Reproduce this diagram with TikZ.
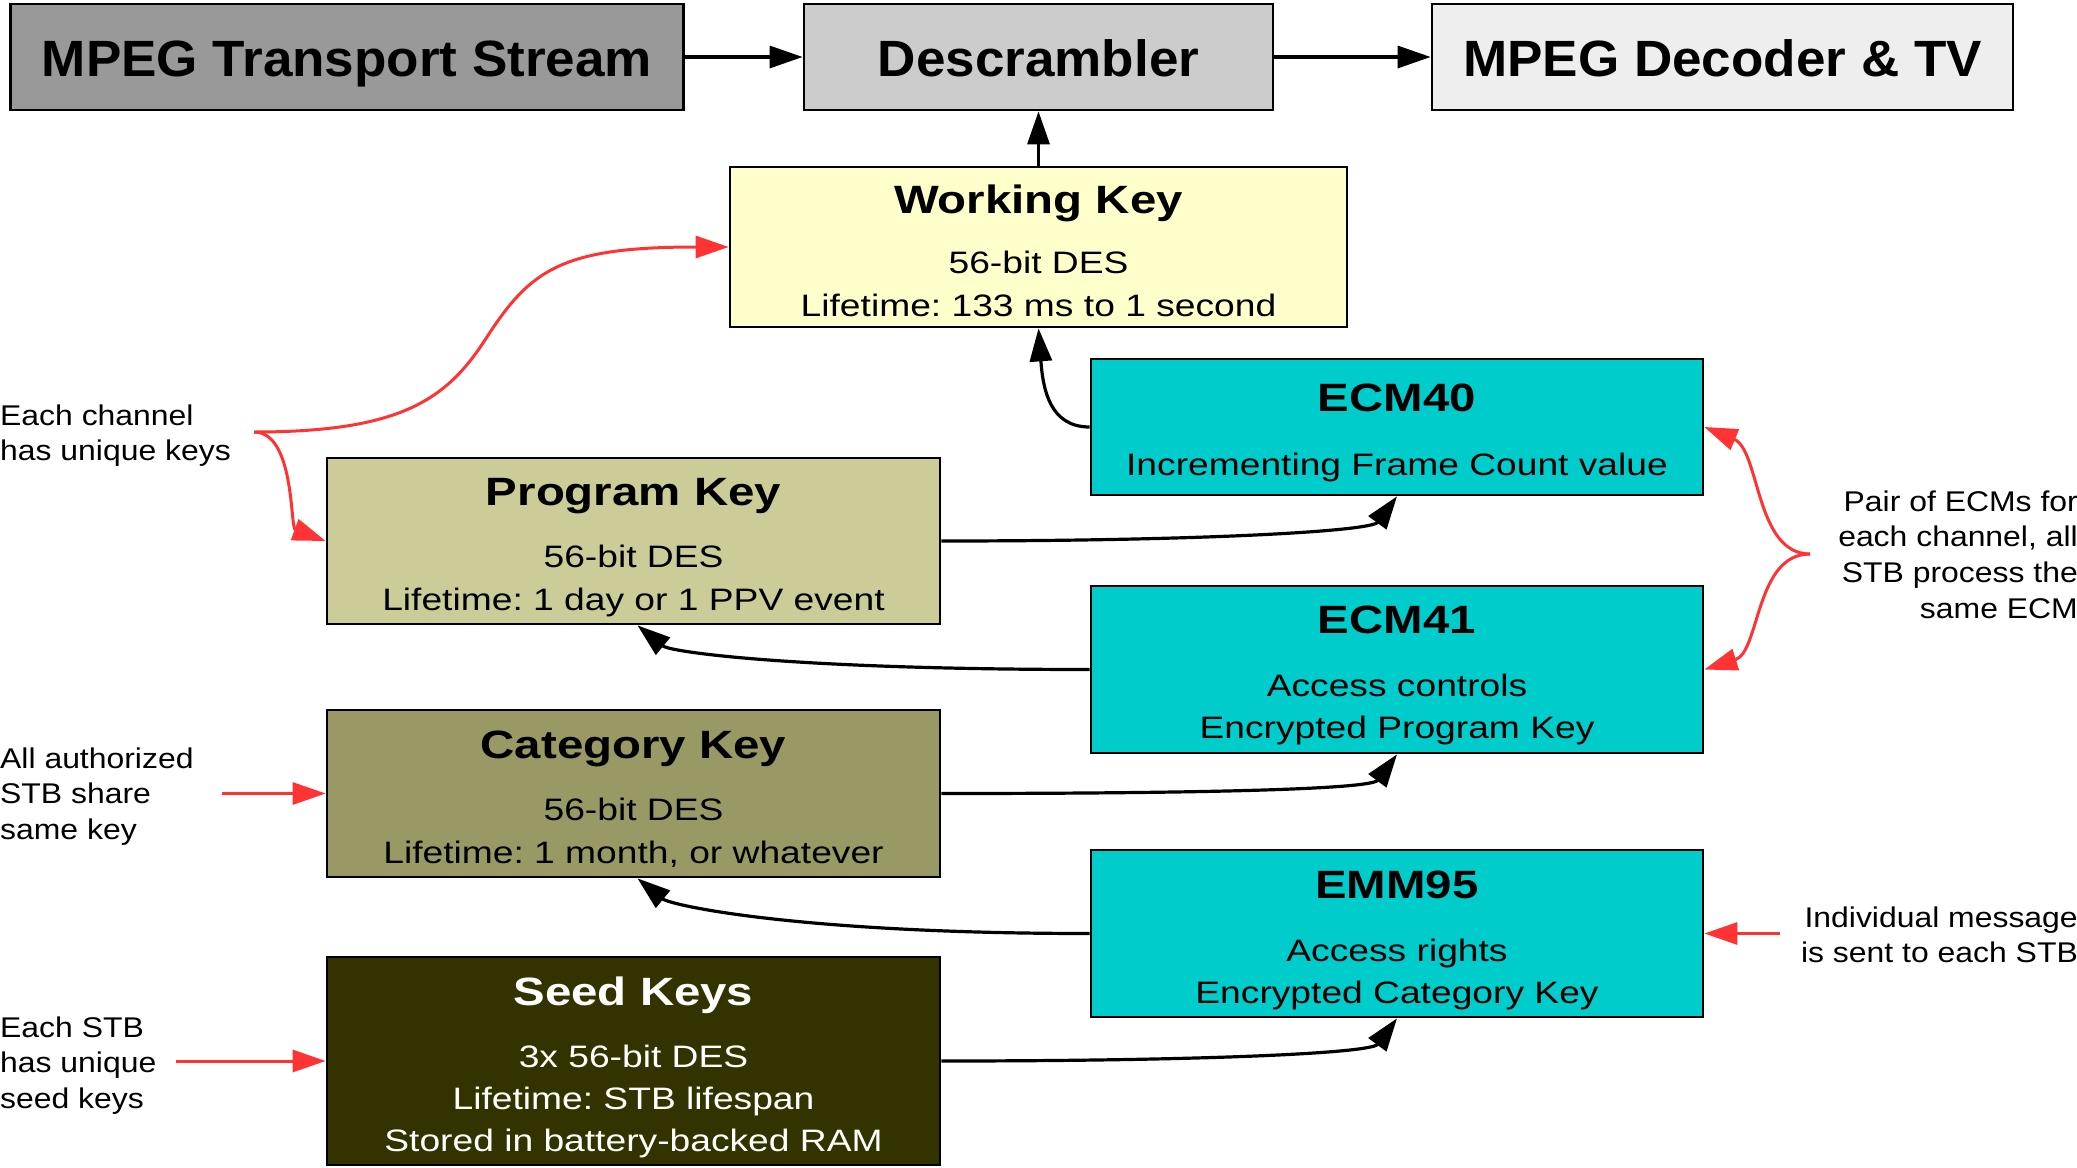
\documentclass[tikz,border=0pt]{standalone}
\usepackage{fontspec}
\setmainfont{Liberation Sans}
\newfontfamily\headfont{Liberation Sans}[FakeStretch=1.04]
\newfontfamily\keyfont{Liberation Sans}[FakeStretch=1.2]
\newfontfamily\notefont{Liberation Sans}[FakeStretch=1.12]
\usetikzlibrary{arrows.meta,calc}
\frenchspacing

\definecolor{tsgray}{HTML}{999999}
\definecolor{descgray}{HTML}{CCCCCC}
\definecolor{decgray}{HTML}{EEEEEE}
\definecolor{wkyellow}{HTML}{FFFFCC}
\definecolor{pkolive}{HTML}{CCCC99}
\definecolor{ckolive}{HTML}{999966}
\definecolor{seeddark}{HTML}{333300}
\definecolor{ecmcyan}{HTML}{00CCCC}
\definecolor{notered}{HTML}{FF3333}

\tikzset{
  keybox/.style={draw=black, line width=2.7pt, inner sep=0pt},
  headtxt/.style={font=\headfont\fontsize{51}{60}\selectfont\bfseries, anchor=base, inner sep=0pt},
  titletxt/.style={font=\keyfont\fontsize{39.5}{47}\selectfont\bfseries, anchor=base, inner sep=0pt},
  bodytxt/.style={font=\keyfont\fontsize{31}{37}\selectfont, anchor=base, inner sep=0pt},
  notetxt/.style={font=\notefont\fontsize{28.5}{35}\selectfont, inner sep=0pt},
  flow/.style={line width=3.2pt, -{Triangle[length=33pt,width=22pt]}},
  remark/.style={color=notered, line width=3pt, -{Triangle[length=33pt,width=22pt]}},
}

\begin{document}
\begin{tikzpicture}[x=1pt,y=-1pt]
\useasboundingbox (0,0) rectangle (2077,1167);

% transport chain
\node[keybox, fill=tsgray, minimum width=673pt, minimum height=106pt] (mts) at (347,57) {};
\node[headtxt] (mts-t) at (347,76) {MPEG Transport Stream};
\node[keybox, fill=descgray, minimum width=469pt, minimum height=106pt] (desc) at (1038.5,57) {};
\node[headtxt] (desc-t) at (1038.5,76) {Descrambler};
\node[keybox, fill=decgray, minimum width=581pt, minimum height=106pt] (dec) at (1722.5,57) {};
\node[headtxt] (dec-t) at (1722.5,76) {MPEG Decoder \& TV};

% working key
\node[keybox, fill=wkyellow, minimum width=617pt, minimum height=160pt] (wk) at (1038.5,247) {};
\node[titletxt] (wk-t) at (1038.5,213) {Working Key};
\node[bodytxt] (wk-l1) at (1038.5,273) {56-bit DES};
\node[bodytxt] (wk-l2) at (1038.5,316) {Lifetime: 133 ms to 1 second};

% key hierarchy (left column)
\node[keybox, fill=pkolive, minimum width=613pt, minimum height=166pt] (pk) at (633.5,541) {};
\node[titletxt] (pk-t) at (633.5,505) {Program Key};
\node[bodytxt] (pk-l1) at (633.5,567) {56-bit DES};
\node[bodytxt] (pk-l2) at (633.5,610) {Lifetime: 1 day or 1 PPV event};

\node[keybox, fill=ckolive, minimum width=613pt, minimum height=167pt] (ck) at (633.5,793.5) {};
\node[titletxt] (ck-t) at (633.5,758) {Category Key};
\node[bodytxt] (ck-l1) at (633.5,820) {56-bit DES};
\node[bodytxt] (ck-l2) at (633.5,863) {Lifetime: 1 month, or whatever};

\node[keybox, fill=seeddark, minimum width=613pt, minimum height=208pt] (seed) at (633.5,1061) {};
\node[titletxt, text=white] (seed-t) at (633.5,1005) {Seed Keys};
\node[bodytxt, text=white] (seed-l1) at (633.5,1067) {3x 56-bit DES};
\node[bodytxt, text=white] (seed-l2) at (633.5,1109) {Lifetime: STB lifespan};
\node[bodytxt, text=white] (seed-l3) at (633.5,1151) {Stored in battery-backed RAM};

% messages (right column)
\node[keybox, fill=ecmcyan, minimum width=612pt, minimum height=136pt] (e40) at (1397,427) {};
\node[titletxt] (e40-t) at (1397,411) {ECM40};
\node[bodytxt] (e40-l1) at (1397,475) {Incrementing Frame Count value};

\node[keybox, fill=ecmcyan, minimum width=612pt, minimum height=167pt] (e41) at (1397,669.5) {};
\node[titletxt] (e41-t) at (1397,633) {ECM41};
\node[bodytxt] (e41-l1) at (1397,696) {Access controls};
\node[bodytxt] (e41-l2) at (1397,738) {Encrypted Program Key};

\node[keybox, fill=ecmcyan, minimum width=612pt, minimum height=167pt] (emm) at (1397,933.5) {};
\node[titletxt] (emm-t) at (1397,898) {EMM95};
\node[bodytxt] (emm-l1) at (1397,961) {Access rights};
\node[bodytxt] (emm-l2) at (1397,1003) {Encrypted Category Key};

% side notes
\node[notetxt, anchor=base west] (n1a) at (0,425) {Each channel};
\node[notetxt, anchor=base west] (n1b) at (0,460) {has unique keys};
\node[notetxt, anchor=base west] (n2a) at (0,768) {All authorized};
\node[notetxt, anchor=base west] (n2b) at (0,803) {STB share};
\node[notetxt, anchor=base west] (n2c) at (0,839) {same key};
\node[notetxt, anchor=base west] (n3a) at (0,1037) {Each STB};
\node[notetxt, anchor=base west] (n3b) at (0,1072) {has unique};
\node[notetxt, anchor=base west] (n3c) at (0,1108) {seed keys};
\node[notetxt, anchor=base east] (n4a) at (2078,511) {Pair of ECMs for};
\node[notetxt, anchor=base east] (n4b) at (2078,546) {each channel, all};
\node[notetxt, anchor=base east] (n4c) at (2078,582) {STB process the};
\node[notetxt, anchor=base east] (n4d) at (2078,618) {same ECM};
\node[notetxt, anchor=base east] (n5a) at (2078,927) {Individual message};
\node[notetxt, anchor=base east] (n5b) at (2078,962) {is sent to each STB};

% data flow
\draw[flow] (mts) -- (desc);
\draw[flow] (desc) -- (dec);
\draw[flow] (wk.north) -- (desc.south);
\draw[flow] (e40.west) .. controls (1050,427) and (1043,390) .. (wk.south);
\draw[flow] (pk.east) .. controls +(260,0) and +(-26,35) .. (e40.south);
\draw[flow] (e41.west) .. controls +(-291,0) and +(33,27) .. ($(pk.south)+(4,0)$);
\draw[flow] (ck.east) .. controls +(260,0) and +(-26,35) .. (e41.south);
\draw[flow] (emm.west) .. controls +(-291,0) and +(33,27) .. ($(ck.south)+(4,0)$);
\draw[flow] (seed.east) .. controls +(260,0) and +(-26,35) .. (emm.south);

% annotation pointers
\coordinate (chan) at (254,432);
\draw[remark] (chan) .. controls (400,432) and (446,400) .. (485,340)
  .. controls (530,270) and (560,247) .. (wk.west);
\draw[remark] (chan) .. controls (295,432) and (290,528) .. (pk.west);
\coordinate (shared) at (222,793.5);
\draw[remark] (shared) -- (ck.west);
\coordinate (perstb) at (176,1061);
\draw[remark] (perstb) -- (seed.west);
\coordinate (pair) at (1810,554);
\draw[remark] (pair) .. controls (1755,554) and (1760,450) .. (e40.east);
\draw[remark] (pair) .. controls (1755,554) and (1760,652) .. (e41.east);
\coordinate (indiv) at (1780,933.5);
\draw[remark] (indiv) -- (emm.east);
\end{tikzpicture}
\end{document}
